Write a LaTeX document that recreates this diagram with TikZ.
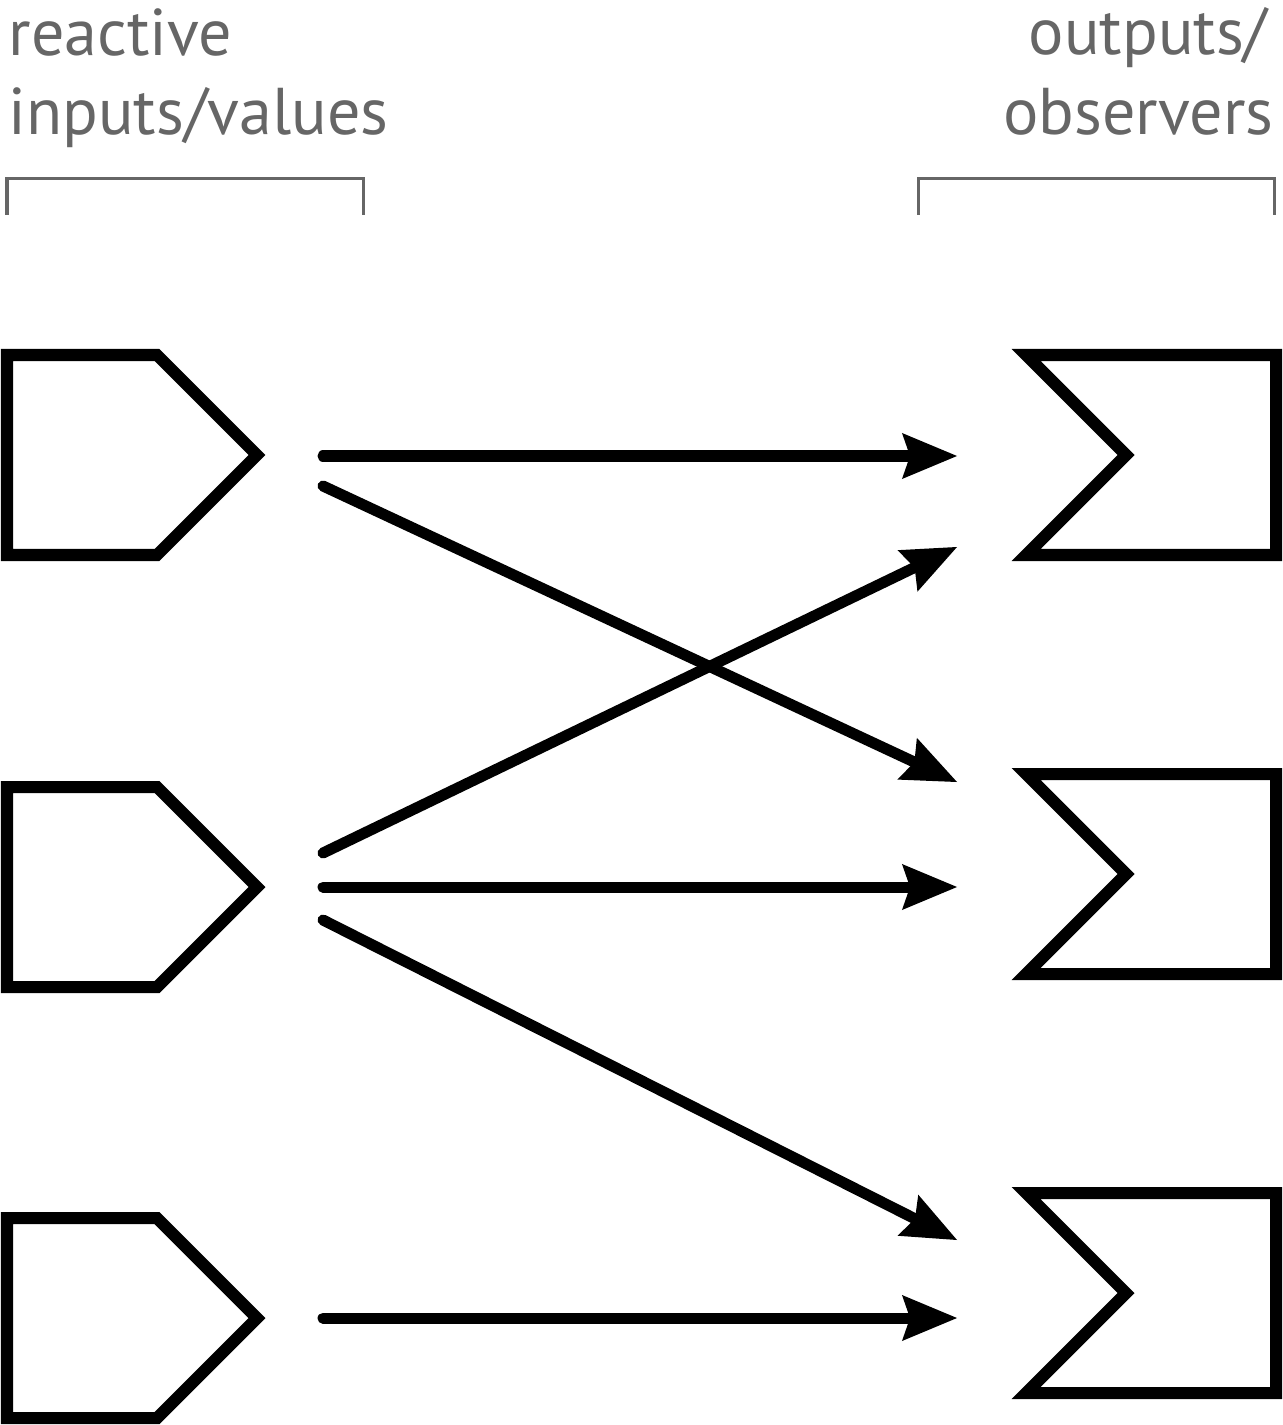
\documentclass[tikz,border=0pt]{standalone}
\usepackage{fontspec}
\setmainfont{PT Sans}
\usepackage{xcolor}
\usetikzlibrary{arrows.meta}
\definecolor{labelgray}{RGB}{102,102,102}

\begin{document}
\begin{tikzpicture}[x=0.01cm,y=-0.01cm,
	inbox/.style={draw=black,line width=0.12cm,line join=miter},
	outbox/.style={draw=black,line width=0.12cm,line join=miter},
	link/.style={line width=0.11cm,line cap=round,-{Stealth[length=0.55cm,width=0.46cm,inset=0.08cm,line width=0pt]}},
	bracket/.style={draw=labelgray,line width=0.03cm},
	lbl/.style={text=labelgray,inner sep=0pt,font=\fontsize{18.8}{22}\selectfont}]
	\useasboundingbox (0,0) rectangle (1282,1425);
	% headings
	\node[lbl,anchor=base west] (react) at (8,56) {reactive};
	\node[lbl,anchor=base west] (inval) at (8,135) {inputs/values};
	\node[lbl,anchor=base east] (outp) at (1268,55) {outputs/};
	\node[lbl,anchor=base east] (obs) at (1274,135) {observers};
	\draw[bracket] (7,215) -- (7,179) -- (363,179) -- (363,215);
	\draw[bracket] (918,215) -- (918,179) -- (1274,179) -- (1274,215);
	% inputs
	\draw[inbox] (7,355) -- (157,355) -- (257,455) -- (157,555) -- (7,555) -- cycle;
	\draw[inbox] (7,787) -- (157,787) -- (257,887) -- (157,987) -- (7,987) -- cycle;
	\draw[inbox] (7,1218) -- (157,1218) -- (257,1318) -- (157,1418) -- (7,1418) -- cycle;
	% outputs
	\draw[outbox] (1026,355) -- (1276,355) -- (1276,555) -- (1026,555) -- (1126,455) -- cycle;
	\draw[outbox] (1026,774) -- (1276,774) -- (1276,974) -- (1026,974) -- (1126,874) -- cycle;
	\draw[outbox] (1026,1193) -- (1276,1193) -- (1276,1393) -- (1026,1393) -- (1126,1293) -- cycle;
	% arrow ends
	\coordinate (i1a) at (323,456);
	\coordinate (i1b) at (323,486);
	\coordinate (i2a) at (323,853);
	\coordinate (i2b) at (323,887);
	\coordinate (i2c) at (323,920);
	\coordinate (i3a) at (323,1318);
	\coordinate (o1a) at (957,456);
	\coordinate (o1b) at (957,547);
	\coordinate (o2a) at (957,782);
	\coordinate (o2b) at (957,887);
	\coordinate (o3a) at (957,1240);
	\coordinate (o3b) at (957,1318);
	\draw[link] (i1a) -- (o1a);
	\draw[link] (i1b) -- (o2a);
	\draw[link] (i2a) -- (o1b);
	\draw[link] (i2b) -- (o2b);
	\draw[link] (i2c) -- (o3a);
	\draw[link] (i3a) -- (o3b);
\end{tikzpicture}
\end{document}
